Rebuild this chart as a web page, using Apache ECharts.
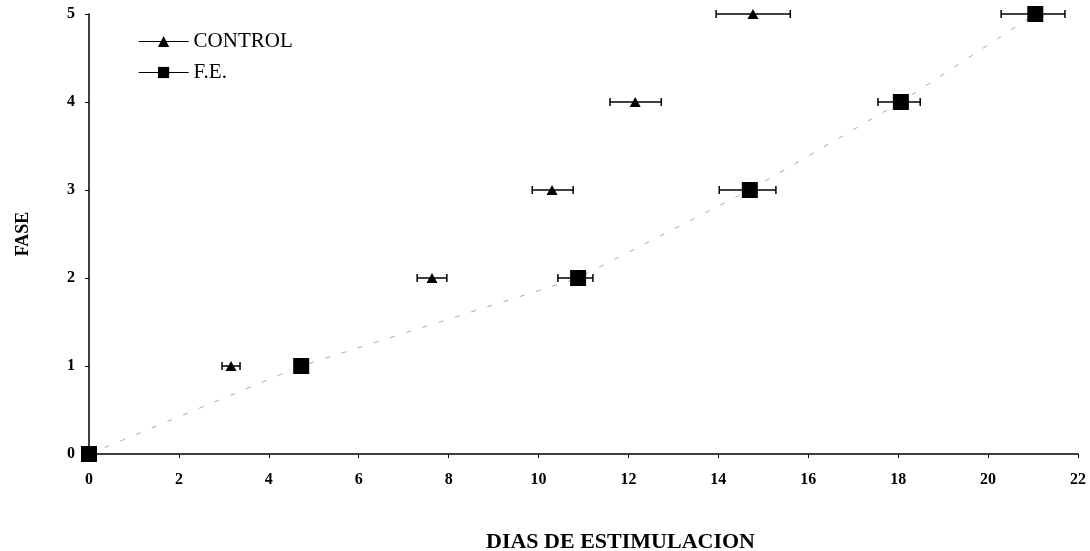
<!DOCTYPE html>
<html>
<head>
<meta charset="utf-8">
<script src="https://cdn.jsdelivr.net/npm/echarts@6/dist/echarts.min.js"></script>
<style>
html, body { margin: 0; padding: 0; background: #fff; }
#chart { width: 1090px; height: 551px; }
</style>
</head>
<body>
<div id="chart"></div>
<script>
// CONTROL: dias medios y limites de la barra horizontal
var controlX = [3.16, 7.63, 10.3, 12.15, 14.77];
var controlY = [1, 2, 3, 4, 5];
var controlLo = [2.96, 7.3, 9.86, 11.59, 13.95];
var controlHi = [3.36, 7.96, 10.77, 12.73, 15.6];

// F.E.
var feX = [0, 4.72, 10.88, 14.7, 18.06, 21.05];
var feY = [0, 1, 2, 3, 4, 5];
var feLo = [0, 4.72, 10.43, 14.02, 17.55, 20.29];
var feHi = [0, 4.72, 11.21, 15.28, 18.49, 21.71];

var xTicks = [0, 22, 2];
var yTicks = [0, 5, 1];

var serif = '"Liberation Serif", "DejaVu Serif", serif';

function pares(xs, ys) {
	var out = [];
	for (var i = 0; i < xs.length; i++) out.push([xs[i], ys[i]]);
	return out;
}
function barras(ys, lo, hi) {
	var out = [];
	for (var i = 0; i < ys.length; i++) {
		if (hi[i] > lo[i]) out.push([lo[i], hi[i], ys[i]]);
	}
	return out;
}
// barra de error horizontal con remates verticales
function errorBar(params, api) {
	var a = api.coord([api.value(0), api.value(2)]);
	var b = api.coord([api.value(1), api.value(2)]);
	var h = 4;
	var st = { stroke: '#000', lineWidth: 1.5 };
	return {
		type: 'group',
		children: [
			{ type: 'line', shape: { x1: a[0], y1: a[1], x2: b[0], y2: b[1] }, style: st },
			{ type: 'line', shape: { x1: a[0], y1: a[1] - h, x2: a[0], y2: a[1] + h }, style: st },
			{ type: 'line', shape: { x1: b[0], y1: b[1] - h, x2: b[0], y2: b[1] + h }, style: st }
		]
	};
}

var chart = echarts.init(document.getElementById('chart'));
var option = {
	backgroundColor: '#fff',
	animation: false,
	grid: { left: 89, right: 12, top: 14, bottom: 97, outerBoundsMode: 'none', containLabel: false },
	legend: {
		left: 133,
		top: 26,
		orient: 'vertical',
		itemGap: 10,
		itemWidth: 50,
		itemHeight: 14,
		textStyle: { fontFamily: serif, fontSize: 21, color: '#000' },
		data: [
			{ name: 'CONTROL', lineStyle: { color: '#000', width: 1.2, opacity: 1, type: 'solid' } },
			{ name: 'F.E.', lineStyle: { color: '#000', width: 1.2, opacity: 1, type: 'solid' } }
		]
	},
	xAxis: {
		type: 'value',
		min: xTicks[0],
		max: xTicks[1],
		interval: xTicks[2],
		name: 'DIAS DE ESTIMULACION',
		nameLocation: 'middle',
		nameGap: 77,
		nameTextStyle: { fontFamily: serif, fontSize: 22, fontWeight: 'bold', color: '#000', padding: [0, 0, 0, 74] },
		axisLine: { lineStyle: { color: '#000', width: 1.5 } },
		axisTick: { show: true, length: 4, lineStyle: { color: '#000' } },
		axisLabel: { fontFamily: serif, fontSize: 16, fontWeight: 'bold', color: '#000', margin: 18 },
		splitLine: { show: false }
	},
	yAxis: {
		type: 'value',
		min: yTicks[0],
		max: yTicks[1],
		interval: yTicks[2],
		name: 'FASE',
		nameLocation: 'middle',
		nameGap: 57,
		nameRotate: 90,
		nameTextStyle: { fontFamily: serif, fontSize: 18, fontWeight: 'bold', color: '#000' },
		axisLine: { show: true, lineStyle: { color: '#000', width: 1.5 } },
		axisTick: { show: true, length: 4, lineStyle: { color: '#000' } },
		axisLabel: { fontFamily: serif, fontSize: 16, fontWeight: 'bold', color: '#000', margin: 14 },
		splitLine: { show: false }
	},
	series: [
		{
			name: 'CONTROL_err',
			type: 'custom',
			renderItem: errorBar,
			data: barras(controlY, controlLo, controlHi),
			encode: { x: [0, 1], y: 2 },
			clip: false,
			z: 2
		},
		{
			name: 'FE_err',
			type: 'custom',
			renderItem: errorBar,
			data: barras(feY, feLo, feHi),
			encode: { x: [0, 1], y: 2 },
			clip: false,
			z: 2
		},
		{
			name: 'CONTROL',
			type: 'line',
			data: pares(controlX, controlY),
			symbol: 'triangle',
			symbolSize: [11, 10],
			itemStyle: { color: '#000' },
			lineStyle: { opacity: 0 },
			clip: false,
			z: 4
		},
		{
			name: 'F.E.',
			type: 'line',
			data: pares(feX, feY),
			symbol: 'rect',
			symbolSize: 16,
			itemStyle: { color: '#000' },
			lineStyle: { color: '#aaa', width: 1, type: [5, 12] },
			clip: false,
			z: 4
		}
	]
};
chart.setOption(option);
</script>
</body>
</html>
